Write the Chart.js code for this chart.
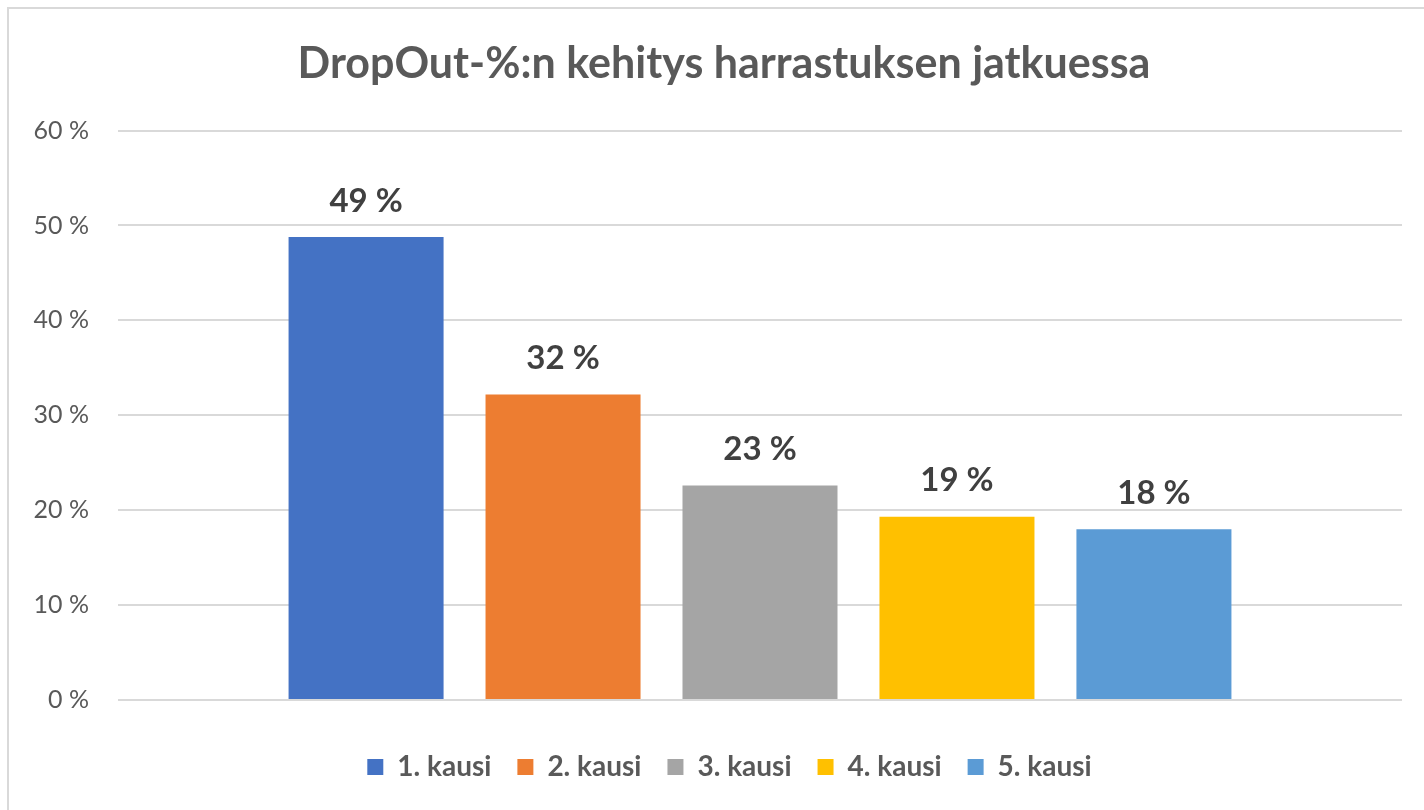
<!DOCTYPE html>
<html>
<head>
<meta charset="utf-8">
<script src="https://cdn.jsdelivr.net/npm/chart.js@4.4.1/dist/chart.umd.min.js"></script>
<style>
  html, body { margin: 0; padding: 0; background: #ffffff; width: 1424px; height: 810px; overflow: hidden; }
  #frame { position: absolute; left: 7px; top: 7px; width: 1440px; height: 830px; border: 2px solid #d9d9d9; box-sizing: border-box; }
  #c { position: absolute; left: 0; top: 0; }
</style>
</head>
<body>
<div id="frame"></div>
<canvas id="c" width="1424" height="810"></canvas>
<script>
// ---- data ----
const chartTitle = 'DropOut-%:n kehitys harrastuksen jatkuessa';
const categories = [''];
const seriesNames = ['1. kausi', '2. kausi', '3. kausi', '4. kausi', '5. kausi'];
const seriesValues = [48.8, 32.2, 22.6, 19.3, 18.0];
const yTickValues = [0, 10, 20, 30, 40, 50, 60];
const seriesColors = ['#4472C4', '#ED7D31', '#A5A5A5', '#FFC000', '#5B9BD5'];

const FONT = 'Lato, "Open Sans", sans-serif';

const valueLabels = {
  id: 'valueLabels',
  afterDatasetsDraw(chart) {
    const ctx = chart.ctx;
    ctx.save();
    ctx.font = 'bold 33px ' + FONT;
    ctx.fillStyle = '#404040';
    ctx.textAlign = 'center';
    ctx.textBaseline = 'middle';
    chart.data.datasets.forEach((ds, i) => {
      const meta = chart.getDatasetMeta(i);
      meta.data.forEach((bar, j) => {
        ctx.fillText(Math.round(ds.data[j]) + ' %', bar.x, bar.y - 36);
      });
    });
    ctx.restore();
  }
};

// shift the centring of title and legend (the reference frame is offset)
const centreShift = {
  id: 'centreShift',
  afterLayout(chart) {
    if (chart.legend) chart.legend.left = 57;
    if (chart.titleBlock) chart.titleBlock.left = 46;
  }
};

const datasets = seriesNames.map((name, i) => ({
  label: name,
  data: [seriesValues[i]],
  backgroundColor: seriesColors[i],
  borderWidth: 0,
  categoryPercentage: 0.767,
  barPercentage: 0.787
}));

new Chart(document.getElementById('c'), {
  type: 'bar',
  data: { labels: categories, datasets },
  plugins: [valueLabels, centreShift],
  options: {
    responsive: false,
    animation: false,
    devicePixelRatio: 1,
    layout: { padding: { left: 0, right: 22, top: 0, bottom: 19 } },
    plugins: {
      tooltip: { enabled: false },
      title: {
        display: true,
        text: chartTitle,
        color: '#595959',
        font: { family: FONT, size: 43, weight: 'bold' },
        padding: { top: 38, bottom: 41 }
      },
      legend: {
        position: 'bottom',
        labels: {
          color: '#595959',
          font: { family: FONT, size: 28, weight: 'bold' },
          boxWidth: 16,
          boxHeight: 16,
          padding: 26
        }
      }
    },
    scales: {
      x: {
        display: true,
        grid: { display: false },
        border: { display: false },
        ticks: { display: false },
        afterFit(scale) { scale.height = 27; }
      },
      y: {
        min: 0,
        max: 60,
        afterBuildTicks(scale) { scale.ticks = yTickValues.map(v => ({ value: v })); },
        grid: { color: '#d9d9d9', lineWidth: 2, drawTicks: false },
        border: { display: false },
        ticks: {
          color: '#595959',
          font: { family: FONT, size: 25 },
          padding: 29,
          callback: (v) => v + ' %'
        },
        afterFit(scale) { scale.width = 118; }
      }
    }
  }
});
</script>
</body>
</html>
